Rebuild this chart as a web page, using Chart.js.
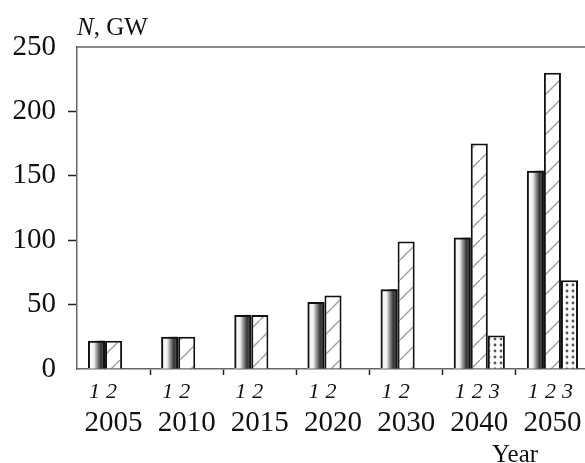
<!DOCTYPE html>
<html>
<head>
<meta charset="utf-8">
<script src="https://cdn.jsdelivr.net/npm/chart.js@4/dist/chart.umd.min.js"></script>
<style>
  html, body { margin: 0; padding: 0; background: #fff; overflow: hidden; }
  #wrap { width: 600px; height: 463px; }
</style>
</head>
<body>
<div id="wrap"><canvas id="c" width="600" height="463"></canvas></div>
<script>
// ---- data ----
const years = ['2005', '2010', '2015', '2020', '2030', '2040', '2050'];
const series1 = [22, 25, 42, 52, 62, 102, 154];
const series2 = [22, 25, 42, 57, 99, 175, 230];
const series3 = [null, null, null, null, null, 26, 69];
const seriesNames = ['1', '2', '3'];
const yTicks = [0, 50, 100, 150, 200, 250];
const yTitleItalic = 'N';
const yTitleRest = ', GW';
const xTitle = 'Year';

const SERIF = '"Liberation Serif", "DejaVu Serif", serif';

function makeHatch() {
  const c = document.createElement('canvas');
  c.width = 20; c.height = 20;
  const g = c.getContext('2d');
  g.fillStyle = '#fff';
  g.fillRect(0, 0, 20, 20);
  g.strokeStyle = '#a0a0a0';
  g.lineWidth = 1.4;
  g.beginPath();
  g.moveTo(-2, 22); g.lineTo(22, -2);
  g.stroke();
  return g.createPattern(c, 'repeat');
}
function makeDots() {
  const c = document.createElement('canvas');
  c.width = 6; c.height = 6;
  const g = c.getContext('2d');
  g.fillStyle = '#fff';
  g.fillRect(0, 0, 6, 6);
  g.fillStyle = '#555';
  g.beginPath();
  g.arc(3, 3, 1.4, 0, Math.PI * 2);
  g.fill();
  return g.createPattern(c, 'repeat');
}

const decor = {
  id: 'decor',
  beforeDatasetsDraw(chart) {
    const ctx = chart.ctx;
    const meta = chart.getDatasetMeta(0);
    ctx.save();
    meta.data.forEach((el, i) => {
      if (series1[i] == null) return;
      const p = el.getProps(['x', 'y', 'base', 'width'], true);
      const l = p.x - p.width / 2, r = p.x + p.width / 2;
      const gr = ctx.createLinearGradient(l, 0, r, 0);
      gr.addColorStop(0, '#ffffff');
      gr.addColorStop(0.35, '#f0f0f0');
      gr.addColorStop(0.52, '#9a9a9a');
      gr.addColorStop(0.75, '#353535');
      gr.addColorStop(1, '#6a6a6a');
      ctx.fillStyle = gr;
      ctx.fillRect(l, p.y, r - l, p.base - p.y);
    });
    ctx.restore();
  },
  afterDraw(chart) {
    const ctx = chart.ctx;
    const a = chart.chartArea;
    ctx.save();
    // top frame line
    ctx.strokeStyle = '#666';
    ctx.lineWidth = 1.5;
    ctx.beginPath();
    ctx.moveTo(a.left, a.top);
    ctx.lineTo(a.right, a.top);
    ctx.stroke();
    // series numbers under bars
    ctx.fillStyle = '#111';
    ctx.font = 'italic 22px ' + SERIF;
    ctx.textAlign = 'center';
    ctx.textBaseline = 'middle';
    const all = [series1, series2, series3];
    all.forEach((s, di) => {
      const meta = chart.getDatasetMeta(di);
      meta.data.forEach((el, i) => {
        if (s[i] == null) return;
        ctx.fillText(seriesNames[di], el.x - 2, a.bottom + 23);
      });
    });
    // y title
    ctx.textAlign = 'left';
    ctx.textBaseline = 'alphabetic';
    ctx.font = 'italic 25px ' + SERIF;
    ctx.fillText(yTitleItalic, a.left, 35);
    const w = ctx.measureText(yTitleItalic).width;
    ctx.font = '25px ' + SERIF;
    ctx.fillText(yTitleRest, a.left + w, 35);
    // x title
    ctx.font = '25px ' + SERIF;
    ctx.fillText(xTitle, 492, 462);
    ctx.restore();
  }
};

new Chart(document.getElementById('c'), {
  type: 'bar',
  data: {
    labels: years,
    datasets: [
      { data: series1, backgroundColor: 'rgba(0,0,0,0)', borderColor: '#111', borderWidth: 2 },
      { data: series2, backgroundColor: makeHatch(), borderColor: '#111', borderWidth: 2 },
      { data: series3, backgroundColor: makeDots(), borderColor: '#111', borderWidth: 2 }
    ]
  },
  options: {
    responsive: false,
    animation: false,
    events: [],
    layout: { padding: { top: 47, right: 11, left: 0, bottom: 0 } },
    datasets: { bar: { categoryPercentage: 0.7, barPercentage: 1.0 } },
    plugins: { legend: { display: false }, tooltip: { enabled: false }, title: { display: false } },
    scales: {
      x: {
        afterFit(s) { s.height = 94; s.paddingLeft = 0; s.paddingRight = 0; },
        border: { display: true, color: '#666', width: 1.5 },
        grid: {
          drawOnChartArea: false, drawTicks: true, tickLength: 6, offset: true,
          tickColor: (c) => c.index === 0 ? 'rgba(0,0,0,0)' : '#222', tickWidth: 1.5
        },
        ticks: { color: '#111', font: { family: SERIF, size: 29 }, padding: 31, maxRotation: 0, autoSkip: false }
      },
      y: {
        min: 0, max: 250,
        afterFit(s) { s.width = 77; s.paddingTop = 0; s.paddingBottom = 0; },
        afterBuildTicks(s) { s.ticks = yTicks.map(v => ({ value: v })); },
        border: { display: true, color: '#666', width: 1.5 },
        grid: {
          drawOnChartArea: false, drawTicks: true, tickLength: 9,
          tickColor: (c) => (c.tick && (c.tick.value === 0 || c.tick.value === 250)) ? 'rgba(0,0,0,0)' : '#222', tickWidth: 1.5
        },
        ticks: { color: '#111', font: { family: SERIF, size: 29 }, padding: 12 }
      }
    }
  },
  plugins: [decor]
});
</script>
</body>
</html>
